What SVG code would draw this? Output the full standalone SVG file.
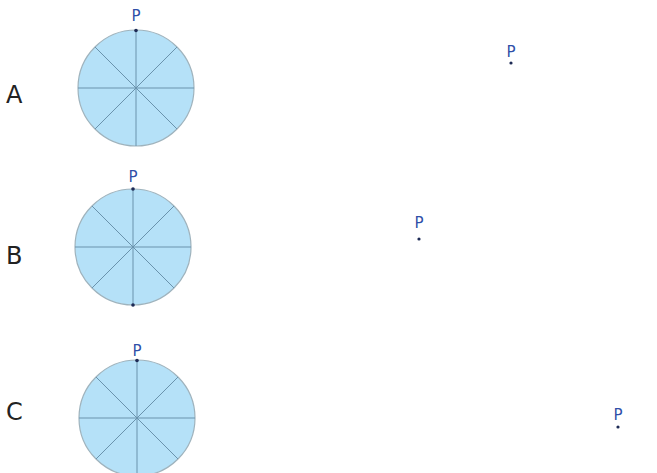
<svg xmlns="http://www.w3.org/2000/svg" width="657" height="473" viewBox="0 0 657 473">
<style>
.wheel{fill:#b5e1f8;stroke:#9fb3bd;stroke-width:1.2}
.spoke{stroke:#6a93ad;stroke-width:1}
.p{font-family:"DejaVu Sans",Verdana,sans-serif;font-size:15px;fill:#2f4fa8;text-anchor:middle}
.lbl{font-family:"DejaVu Sans",Verdana,sans-serif;font-size:24px;fill:#222}
.dot{fill:#1d2a55}
</style>
<defs>
<g id="w">
<circle class="wheel" r="58"/>
<g class="spoke">
<line x1="0" y1="-58" x2="0" y2="58"/>
<line x1="-58" y1="0" x2="58" y2="0"/>
<line x1="-41" y1="-41" x2="41" y2="41"/>
<line x1="41" y1="-41" x2="-41" y2="41"/>
</g>
</g>
</defs>
<rect width="657" height="473" fill="#fff"/>
<g id="rowA">
<text class="lbl" x="6" y="103">A</text>
<use href="#w" x="136" y="88"/>
<circle class="dot" cx="136" cy="30.5" r="1.8"/>
<text class="p" x="136" y="21">P</text>
<text class="p" x="511" y="57">P</text>
<circle class="dot" cx="511" cy="63" r="1.6"/>
</g>
<g id="rowB">
<text class="lbl" x="6" y="264">B</text>
<use href="#w" x="133" y="247"/>
<circle class="dot" cx="133" cy="189" r="1.8"/>
<circle class="dot" cx="133" cy="305" r="1.8"/>
<text class="p" x="133" y="182">P</text>
<text class="p" x="419" y="228">P</text>
<circle class="dot" cx="419" cy="239" r="1.6"/>
</g>
<g id="rowC">
<text class="lbl" x="6" y="420">C</text>
<use href="#w" x="137" y="418"/>
<circle class="dot" cx="137" cy="360.5" r="1.8"/>
<text class="p" x="137" y="356">P</text>
<text class="p" x="618" y="420">P</text>
<circle class="dot" cx="618" cy="427" r="1.6"/>
</g>
</svg>
